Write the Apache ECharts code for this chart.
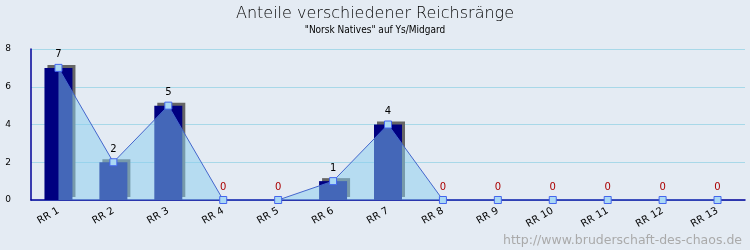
<!DOCTYPE html>
<html><head><meta charset="utf-8">
<script src="https://cdn.jsdelivr.net/npm/echarts@6/dist/echarts.min.js"></script>
<style>html,body{margin:0;padding:0;background:#e4ebf3}#c{width:750px;height:250px}</style>
</head><body><div id="c"></div>
<script>
var categories = ['RR 1','RR 2','RR 3','RR 4','RR 5','RR 6','RR 7','RR 8','RR 9','RR 10','RR 11','RR 12','RR 13'];
var values = [7,2,5,0,0,1,4,0,0,0,0,0,0];
var yTicks = {min:0, max:8, interval:2};
var titleText = 'Anteile verschiedener Reichsränge';
var subtitleText = '"Norsk Natives" auf Ys/Midgard';
var watermark = 'http://www.bruderschaft-des-chaos.de';

var chart = echarts.init(document.getElementById('c'));
chart.setOption({
  backgroundColor:'#e4ebf3',
  animation:false,
  title:{text:titleText, subtext:subtitleText, left:'center', top:1, itemGap:3,
    textStyle:{fontFamily:'DejaVu Sans', fontSize:16, fontWeight:200, color:'#000'},
    subtextStyle:{fontFamily:'DejaVu Sans Condensed', fontSize:10, color:'#000'}},
  grid:{left:31, right:5, top:49, bottom:50},
  xAxis:{type:'category', data:categories, boundaryGap:true,
    axisLine:{lineStyle:{color:'#000099', width:1.5}},
    axisTick:{inside:true, length:5, interval:0, lineStyle:{color:'#000099'}},
    axisLabel:{rotate:30, interval:0, margin:10, fontFamily:'DejaVu Sans', fontSize:10, color:'#000'}},
  yAxis:{type:'value', min:yTicks.min, max:yTicks.max, interval:yTicks.interval,
    axisLine:{show:true, lineStyle:{color:'#000099', width:1.5}},
    axisTick:{show:false},
    axisLabel:{margin:20, fontFamily:'DejaVu Sans', fontSize:9, color:'#000'},
    splitLine:{lineStyle:{color:'#a8d8e8', width:1}}},
  series:[
    {type:'bar', data:values, barWidth:28, z:2,
      itemStyle:{color:'#000080', shadowColor:'#666666', shadowOffsetX:3, shadowOffsetY:-3, shadowBlur:0}},
    {type:'line', z:3, data:values.map(function(v){return {value:v, label:{color: v===0?'#aa0000':'#000'}};}),
      symbol:'rect', symbolSize:7,
      itemStyle:{color:'#aad8f4', borderColor:'#4466ee', borderWidth:1},
      lineStyle:{color:'#4466cc', width:1},
      areaStyle:{color:'rgb(136,206,240)', opacity:0.5, origin:'start'},
      label:{show:true, position:'top', distance:4, fontFamily:'DejaVu Sans', fontSize:10}}
  ],
  graphic:[{type:'text', right:8, bottom:3, style:{text:watermark, fill:'#aaaaaa', font:'12.5px "DejaVu Sans"'}}]
});
</script></body></html>
